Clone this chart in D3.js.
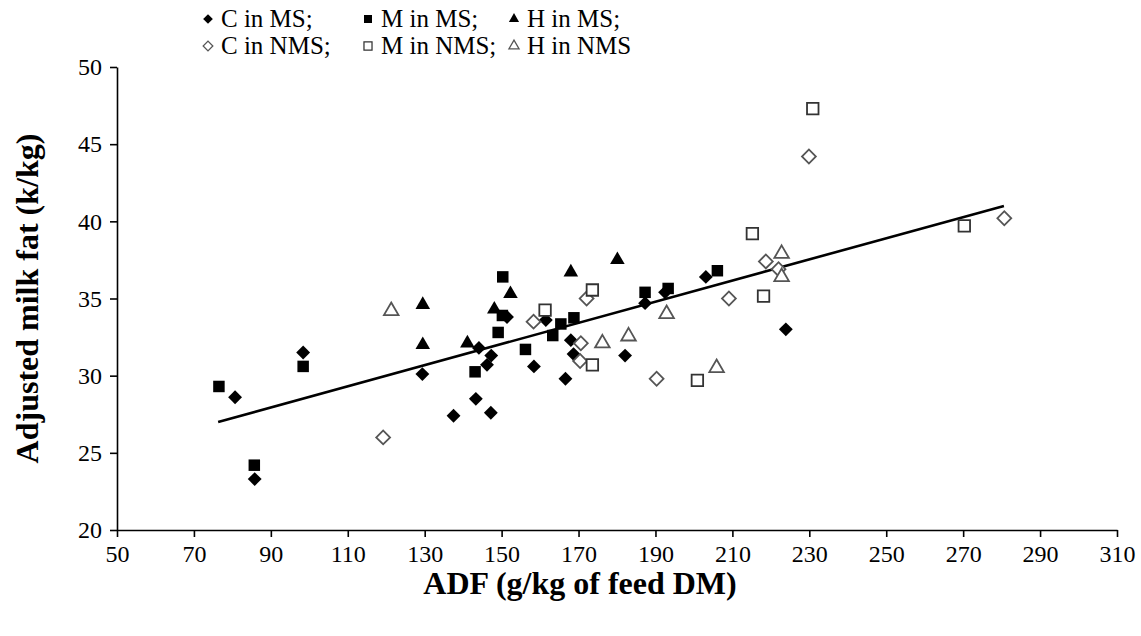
<!DOCTYPE html>
<html>
<head>
<meta charset="utf-8">
<script src="https://cdn.jsdelivr.net/npm/d3@7"></script>
<style>
  body { margin: 0; background: #fff; }
  svg text { font-family: "Liberation Serif", "Times New Roman", serif; fill: #000; }
</style>
</head>
<body>
<svg id="chart"></svg>
<script>
// values: [ADF g/kg, adjusted milk fat]
const cInMS = [[80.7,28.6],[85.8,23.3],[98.4,31.5],[129.4,30.1],[137.5,27.4],[143.3,28.5],
  [147.2,27.6],[144.1,31.8],[147.3,31.3],[146.2,30.7],[151.4,33.8],[158.4,30.6],[161.5,33.6],
  [166.6,29.8],[168.0,32.3],[168.7,31.4],[182.1,31.3],[187.3,34.7],[192.5,35.4],[203.1,36.4],[223.9,33.0]];
const mInMS = [[76.5,29.3],[85.7,24.2],[98.4,30.6],[143.1,30.25],[150.3,36.4],[150.2,33.9],
  [149.1,32.8],[156.2,31.7],[163.3,32.6],[165.4,33.35],[168.8,33.75],[187.3,35.4],[193.3,35.65],[206.1,36.8]];
const hInMS = [[129.5,34.6],[129.5,32.0],[141.1,32.1],[148.1,34.3],[152.3,35.3],[168.0,36.7],[180.1,37.5]];
const cInNMS = [[119.2,26.0],[158.3,33.5],[172.1,35.0],[170.6,32.1],[170.4,30.95],[190.3,29.8],
  [209.1,35.0],[218.7,37.4],[222.0,36.9],[229.9,44.2],[280.7,40.2]];
const mInNMS = [[161.3,34.25],[173.6,35.55],[173.6,30.7],[200.9,29.7],[215.2,39.2],[218.1,35.15],
  [230.9,47.3],[270.3,39.7]];
const hInNMS = [[121.3,34.2],[176.2,32.1],[183.0,32.55],[192.9,34.0],[205.9,30.5],[222.8,37.9],[222.8,36.4]];

// fitted line end points
const trend = [[76.3, 27.0], [280.6, 41.0]];

const xTicks = [50, 70, 90, 110, 130, 150, 170, 190, 210, 230, 250, 270, 290, 310];
const yTicks = [20, 25, 30, 35, 40, 45, 50];

const width = 1141, height = 636;
const svg = d3.select("#chart").attr("width", width).attr("height", height);

const x = d3.scaleLinear().domain([50, 310]).range([117, 1117]);
const y = d3.scaleLinear().domain([20, 50]).range([530, 67]);

// markers
const diamond = d3.symbol().type(d3.symbolSquare).size(96)();
const square = d3.symbol().type(d3.symbolSquare).size(132)();
const triangle = d3.symbol().type(d3.symbolTriangle).size(92)();

const series = [
  { name: "C in MS;",  data: cInMS,  path: diamond,  rot: 45, fill: "#000", stroke: "none" },
  { name: "M in MS;",  data: mInMS,  path: square,   rot: 0,  fill: "#000", stroke: "none" },
  { name: "H in MS;",  data: hInMS,  path: triangle, rot: 0,  fill: "#000", stroke: "none" },
  { name: "C in NMS;", data: cInNMS, path: diamond,  rot: 45, fill: "#fff", stroke: "#555" },
  { name: "M in NMS;", data: mInNMS, path: square,   rot: 0,  fill: "#fff", stroke: "#333" },
  { name: "H in NMS",  data: hInNMS, path: triangle, rot: 0,  fill: "#fff", stroke: "#555" }
];

// axes
const yAxis = svg.append("g")
  .attr("transform", `translate(${x(50)},0)`)
  .call(d3.axisLeft(y).tickValues(yTicks).tickSize(7).tickPadding(8).tickSizeOuter(0));
const xAxis = svg.append("g")
  .attr("transform", `translate(0,${y(20)})`)
  .call(d3.axisBottom(x).tickValues(xTicks).tickSize(7).tickPadding(8).tickSizeOuter(0));

[xAxis, yAxis].forEach(g => {
  g.selectAll("path, line").attr("stroke", "#000").attr("stroke-width", 1.6);
  g.selectAll("text").style("font-size", "24px").attr("fill", "#000");
});

// trend line
svg.append("path")
  .datum(trend)
  .attr("fill", "none")
  .attr("stroke", "#000")
  .attr("stroke-width", 2.6)
  .attr("d", d3.line().x(d => x(d[0])).y(d => y(d[1])));

// points
series.forEach(s => {
  svg.append("g").selectAll("path")
    .data(s.data)
    .enter()
    .append("path")
    .attr("d", s.path)
    .attr("transform", d => `translate(${x(d[0])},${y(d[1])}) rotate(${s.rot})`)
    .attr("fill", s.fill)
    .attr("stroke", s.stroke)
    .attr("stroke-width", 1.8);
});

// axis titles
svg.append("text")
  .attr("x", 580)
  .attr("y", 594)
  .attr("text-anchor", "middle")
  .style("font-size", "32px")
  .style("font-weight", "bold")
  .text("ADF (g/kg of feed DM)");

svg.append("text")
  .attr("transform", `translate(38,${(y(20) + y(50)) / 2}) rotate(-90)`)
  .attr("text-anchor", "middle")
  .style("font-size", "32px")
  .style("font-weight", "bold")
  .text("Adjusted milk fat (k/kg)");

// legend, two rows of three
const legendCols = [208, 368, 514];
const legendRows = [19, 46];
const legend = svg.append("g");
series.forEach((s, i) => {
  const lx = legendCols[i % 3], ly = legendRows[Math.floor(i / 3)];
  legend.append("path")
    .attr("d", s.path)
    .attr("transform", `translate(${lx},${ly}) rotate(${s.rot}) scale(0.7)`)
    .attr("fill", s.fill)
    .attr("stroke", s.stroke)
    .attr("stroke-width", 1.8);
  legend.append("text")
    .attr("x", lx + 13)
    .attr("y", ly + 8)
    .style("font-size", "25px")
    .text(s.name);
});
</script>
</body>
</html>
